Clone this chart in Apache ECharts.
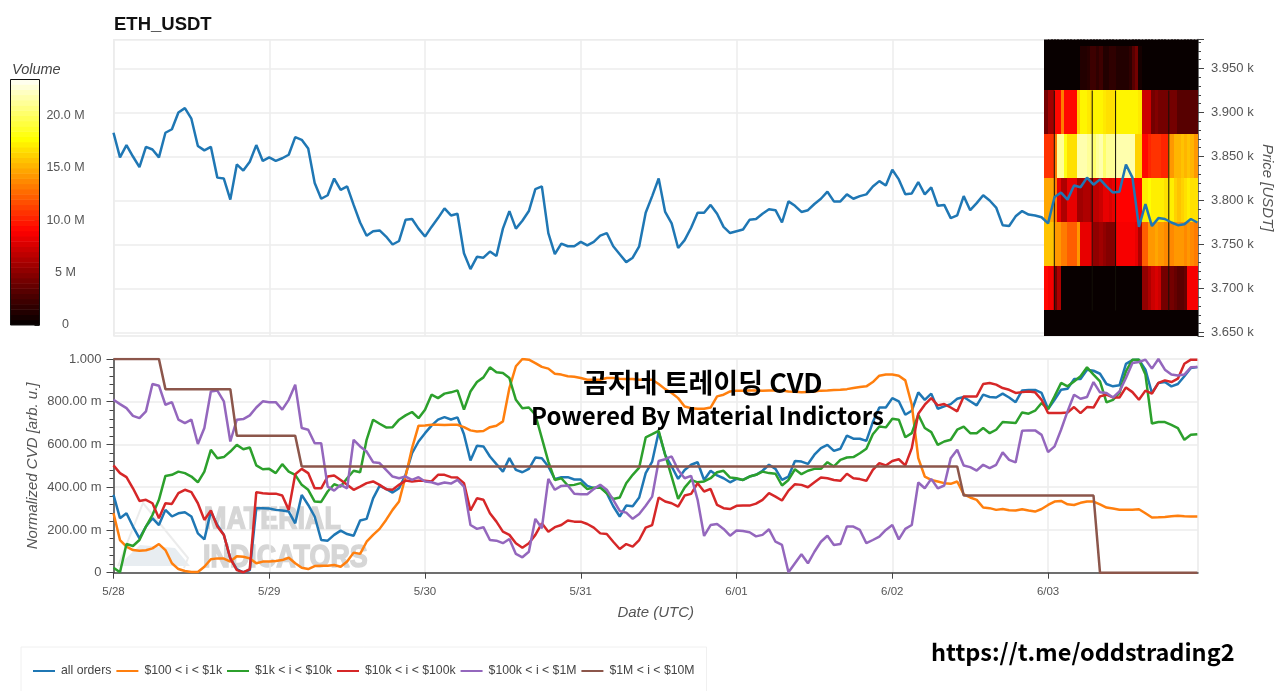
<!DOCTYPE html>
<html>
<head>
<meta charset="utf-8">
<style>
  html, body { margin: 0; padding: 0; background: #fff; }
  #chart { width: 1280px; height: 691px; }
</style>
<script src="https://cdn.jsdelivr.net/npm/echarts@6/dist/echarts.min.js"></script>
</head>
<body>
<div id="chart"></div>
<script>
const HOUR = 3600 * 1000
const start = Date.UTC(2024, 4, 28)

const price = [
  3877,3849,3863,3850,3838,3861,3858,3849,3877,3881,3900,3905,3893,3862,3857,3861,3826,3825,3801,3841,3834,3844,3863,3845,
  3849,3845,3848,3852,3872,3869,3859,3820,3802,3806,3825,3812,3816,3795,3775,3760,3765,3766,3759,3750,3754,3778,3779,3768,
  3759,3770,3780,3791,3783,3785,3740,3722,3736,3735,3742,3737,3768,3788,3768,3777,3788,3813,3816,3763,3739,3751,3748,3748,
  3753,3749,3753,3760,3763,3748,3739,3730,3735,3748,3786,3805,3825,3787,3774,3746,3755,3769,3786,3786,3795,3785,3770,3763,
  3765,3767,3778,3779,3785,3790,3789,3775,3799,3794,3787,3789,3796,3802,3810,3799,3799,3807,3802,3805,3807,3816,3822,3817,
  3835,3824,3807,3808,3821,3807,3815,3794,3795,3780,3783,3805,3789,3797,3806,3800,3792,3772,3771,3782,3788,3784,3783,3781,
  3774,3804,3809,3801,3817,3815,3826,3818,3824,3816,3809,3810,3841,3826,3770,3796,3771,3780,3779,3775,3772,3773,3779,3775,
]

const allOrders = [
  364,255,278,216,161,216,255,223,294,263,278,283,263,184,156,286,223,177,67,17,2,12,302,302,
  300,294,291,286,231,364,317,263,153,150,177,197,181,173,244,252,348,406,392,375,395,458,559,614,
  653,688,716,728,717,727,648,525,594,591,544,508,473,536,481,470,486,539,536,497,438,447,447,436,
  436,406,395,402,372,311,263,314,311,352,466,520,658,552,497,439,481,505,517,434,477,455,442,423,
  439,434,450,458,477,505,486,434,450,523,520,509,552,583,598,570,580,642,627,627,617,705,773,773,
  817,802,739,758,844,809,838,767,778,789,814,822,802,783,833,822,820,838,820,798,853,855,855,841,
  766,809,856,861,906,906,950,945,931,883,872,877,977,995,997,950,841,888,892,872,883,919,958,963,
]

const size100to1k = [
  278,153,122,106,103,105,114,134,106,44,17,8,3,3,28,63,67,66,52,77,75,67,44,52,
  52,55,59,70,44,23,17,31,33,33,36,28,52,94,88,145,177,205,247,294,333,450,583,688,
  689,692,692,691,692,692,681,666,661,663,681,688,708,864,966,1000,997,981,963,955,931,927,919,917,
  911,903,903,903,911,911,908,906,906,903,903,903,883,859,841,817,778,770,767,767,773,825,833,848,
  852,852,853,853,852,853,853,852,848,847,844,845,848,852,853,855,856,859,864,869,872,892,922,927,
  927,922,900,786,536,450,434,427,419,416,427,367,352,341,305,302,294,298,292,291,297,291,286,298,
  317,333,336,320,317,327,333,333,320,305,300,295,295,295,297,278,258,259,261,264,267,264,263,263,
]

const size1kto10k = [
  23,2,134,125,153,216,270,341,453,458,473,466,450,423,473,575,536,541,567,598,578,586,502,484,
  486,466,508,473,458,411,388,333,331,380,414,403,442,477,470,622,716,697,680,681,716,736,752,723,
  763,833,817,838,844,853,763,848,892,914,961,938,934,911,809,770,773,739,630,520,434,442,408,411,
  419,391,398,398,372,345,352,419,458,492,633,648,664,552,450,345,398,434,423,427,442,470,477,445,
  442,434,450,458,473,466,463,408,434,484,461,477,486,486,517,497,528,539,541,559,580,648,684,680,
  720,716,634,653,739,677,658,598,614,622,669,684,653,653,677,653,669,705,703,700,750,744,758,794,
  766,825,888,872,895,919,961,927,895,797,809,841,942,997,997,927,698,705,705,692,677,622,645,648,
]

const size10kto100k = [
  502,466,447,395,336,341,325,255,325,322,372,388,377,325,247,291,216,177,67,12,2,17,377,372,
  370,370,361,294,461,486,466,395,395,450,455,434,411,388,403,419,427,411,391,388,411,431,427,430,
  430,427,458,458,447,445,419,291,348,341,278,239,192,177,138,117,138,177,231,192,213,223,244,239,
  239,228,211,184,181,145,111,134,122,153,211,223,352,333,325,309,361,369,419,380,392,317,302,298,
  313,314,314,323,341,372,356,338,384,414,411,400,423,445,442,434,430,463,442,438,430,481,513,502,
  523,531,502,583,744,786,817,783,789,773,755,825,825,825,883,888,880,864,856,841,845,848,844,809,
  747,747,747,750,775,747,775,773,825,833,820,820,867,845,809,852,838,888,900,892,908,978,997,997,
]

const size100kto1m = [
  809,789,770,734,723,755,883,875,786,798,716,700,716,602,677,848,852,802,614,716,719,736,773,802,
  798,798,763,809,880,677,669,606,606,403,384,411,395,622,591,567,517,513,481,450,442,450,434,447,
  427,423,414,422,417,434,403,223,205,213,153,150,138,158,88,72,98,252,208,439,388,406,408,369,
  367,367,392,411,388,341,289,281,252,275,313,356,523,531,544,481,442,453,341,172,223,228,205,173,
  197,195,189,170,177,203,145,130,2,44,86,44,98,145,173,130,134,216,216,200,138,153,169,200,
  223,156,205,223,422,395,439,395,408,536,575,502,494,478,505,489,505,563,528,516,664,666,666,645,
  564,591,669,755,833,814,822,892,844,841,820,848,911,981,986,997,955,1000,950,927,923,927,961,963,
]

const size1mto10m = [
  1000,1000,1000,1000,1000,1000,1000,1000,859,859,859,859,859,859,859,859,859,859,859,641,641,641,641,641,
  641,641,641,641,641,497,497,497,497,497,497,497,497,497,497,497,497,497,497,497,497,497,497,497,
  497,497,497,497,497,497,497,497,497,497,497,497,497,497,497,497,497,497,497,497,497,497,497,497,
  497,497,497,497,497,497,497,497,497,497,497,497,497,497,497,497,497,497,497,497,497,497,497,497,
  497,497,497,497,497,497,497,497,497,497,497,497,497,497,497,497,497,497,497,497,497,497,497,497,
  497,497,497,497,497,497,497,497,497,497,497,361,361,361,361,361,361,361,361,361,361,361,361,361,
  361,361,361,361,361,361,361,361,0,0,0,0,0,0,0,0,0,0,0,0,0,0,0,0,
]

const cvdNames = ['all orders', '$100 < i < $1k', '$1k < i < $10k', '$10k < i < $100k', '$100k < i < $1M', '$1M < i < $10M']
const cvdColors = ['#1f77b4', '#ff7f0e', '#2ca02c', '#d62728', '#9467bd', '#8c564b']
const cvdValues = [allOrders, size100to1k, size1kto10k, size10kto100k, size100kto1m, size1mto10m]

const heatStartHour = 143.5
const heatPrices = [4000, 3950, 3900, 3850, 3800, 3750, 3700, 3650]
const heatVolumes = [
  [0,0,0,0,0,0,0,0,0,0, 0,0,0,0,0, 0,0,0,0,0, 0,0,0,0,0, 0,0,0,0,0, 0,0,0,0,0, 0,0,0,0,0, 0,0,0,0,0, 0,0],
  [0,0,0,0,0,0,0,0,0,0, 0,1,1,1.2,2, 2,1.5,2,1,1, 1.5,1.5,1,1,1, 1,1.5,3,4,0.5, 0,0,0,0,0, 0,0,0,0,0, 0,0,0,0,0, 0,0],
  [4,5.5,5.5,9,9,13,9,9,9,9, 16,17.2,17.2,16.8,16.5, 17.2,17.2,17.2,16.8,16.5, 16.5,16.5,17.2,17.2,17.2, 17.2,17.2,17.2,17.2,16.8, 7,7,7,4,4.5, 4,4,4,4,4, 4,3,3,3,3, 3,3],
  [10.5,10.5,10.5,13,21,21,18,16.5,16.5,16.5, 21.5,21.5,21.5,21,21, 20,21,21.5,20,21, 21,21,21.5,21.5,21.5, 21.5,21.5,21.5,16,16, 9,9,10,10.5,10.5, 10.5,10,10,14,14, 15,15,15.5,15,15.5, 15,14],
  [14.5,14.5,14.5,13,8,6,6,8,8,8, 5.5,5.5,6,6,5.5, 6.5,6.5,7,8,8, 7.5,8,8.8,8.8,8.8, 8.8,8.8,8.8,8.8,8.8, 17,17,17.5,17,17, 17,17,16.5,17,17, 16,15.5,16,16.5,17, 16.5,16.5],
  [15.5,15.5,15.5,14,14,13,13,12,12,12, 14,8,8,8,8, 5,5,5.5,5,4.5, 4.5,4.5,8.5,8.5,8.5, 8.5,8.5,8.5,8,6, 12,12,14,14,14.5, 14,14,13.5,13.5,13.5, 14,14,14,13.5,14, 13.5,13],
  [9,8.5,8.5,4,6,0,0,0,0,0, 0,0,0,0,0, 0,0,0,0,0, 0,0,0,0,0, 0,0,0,0,0, 5,5,6,7,7.5, 7,4,4,4,4, 3.5,3,3,3.5,8.5, 8.5,8.5],
  [0,0,0,0,0,0,0,0,0,0, 0,0,0,0,0, 0,0,0,0,0, 0,0,0,0,0, 0,0,0,0,0, 0,0,0,0,0, 0,0,0,0,0, 0,0,0,0,0, 0,0],
]
const heatGapHours = [144.96, 150.8, 154.4, 162.6]

const colorbarLevels = [
  0,0.5,1,1.5,2,2.5,3,3.5,4,4.5,5,5.5,6,6.5,7,7.5,8,8.5,9,9.5,10,10.5,11,11.5,
  12,12.5,13,13.5,14,14.5,15,15.5,16,16.5,17,17.5,18,18.5,19,19.5,20,20.5,21,21.5,22,22.5,23,
]
const hotColors = ['#080000', '#550000', '#aa0000', '#ff0000', '#ff5500', '#ffaa00', '#ffff00', '#ffff80', '#ffffff']

const font = '"Liberation Sans", Arial, sans-serif'
const tickColor = '#555'
const gridColor = '#ececec'

const times = price.map((_, i) => start + i * HOUR)

function series(values) {
  return values.map((value, i) => [times[i], value])
}

function heatData() {
  const data = []
  heatVolumes.forEach((row, r) => {
    row.forEach((volume, c) => {
      data.push([start + (heatStartHour + c * 0.5) * HOUR, heatPrices[r], volume])
    })
  })
  return data
}

function renderHeatCell(params, api) {
  const p0 = api.coord([api.value(0), api.value(1) + 25])
  const p1 = api.coord([api.value(0) + 0.5 * HOUR, api.value(1) - 25])
  const rect = echarts.graphic.clipRectByRect(
    { x: Math.floor(p0[0]), y: Math.floor(p0[1]), width: Math.ceil(p1[0] - p0[0]) + 1, height: Math.ceil(p1[1] - p0[1]) },
    params.coordSys,
  )
  return rect && { type: 'rect', shape: rect, style: { fill: api.visual('color') } }
}

function renderHeatGap(params, api) {
  const p0 = api.coord([api.value(0), 3925])
  const p1 = api.coord([api.value(0), 3675])
  return { type: 'rect', shape: { x: p0[0] - 0.5, y: p0[1], width: 1, height: p1[1] - p0[1] }, style: { fill: '#141008' } }
}

function renderColorbarBand(params, api) {
  const p0 = api.coord([0, api.value(1) + 0.5])
  const p1 = api.coord([1, api.value(1)])
  const rect = echarts.graphic.clipRectByRect(
    { x: p0[0], y: p0[1], width: p1[0] - p0[0], height: p1[1] - p0[1] + 0.5 },
    params.coordSys,
  )
  return rect && { type: 'rect', shape: rect, style: { fill: api.visual('color') } }
}

function formatPrice(value) {
  return (value / 1000).toFixed(3) + ' k'
}

function formatCvd(value) {
  if (value === 0) return '0'
  if (value === 1000) return '1.000'
  return value.toFixed(2) + ' m'
}

function formatVolume(value) {
  if (value === 0) return '0'
  if (value === 5) return '5 M'
  return value > 20 ? '' : value.toFixed(1) + ' M'
}

const chart = echarts.init(document.getElementById('chart'), null, { renderer: 'canvas' })

const timeMax = start + 167.1 * HOUR

chart.setOption({
  animation: false,
  useUTC: true,
  backgroundColor: '#fff',
  textStyle: { fontFamily: font },
  title: [
    { text: 'ETH_USDT', left: 109, top: 10, textStyle: { fontFamily: font, fontSize: 18.5, fontWeight: 'bold', color: '#111' } },
    { text: 'Volume', left: 7, top: 57, textStyle: { fontFamily: font, fontSize: 14.5, fontStyle: 'italic', fontWeight: 'normal', color: '#444' } },
    { text: '곰지네 트레이딩 CVD', left: 578, top: 364, textStyle: { fontFamily: '"Noto Sans CJK KR"', fontSize: 27, fontWeight: 'bold', color: '#000' } },
    { text: 'Powered By Material Indictors', left: 526, top: 399, textStyle: { fontFamily: '"Noto Sans CJK KR"', fontSize: 24, fontWeight: 'bold', color: '#000' } },
    { text: 'https://t.me/oddstrading2', left: 926, top: 635, textStyle: { fontFamily: '"Noto Sans CJK KR"', fontSize: 23.5, fontWeight: 'bold', color: '#000' } },
  ],
  graphic: [
    { type: 'polygon', z: 0, shape: { points: [[118, 566], [190, 566], [175, 548], [140, 545]] }, style: { fill: '#e8edf1' } },
    { type: 'polyline', z: 0, shape: { points: [[118, 566], [143, 503], [188, 558], [184, 568]] }, style: { stroke: '#ececec', lineWidth: 2, fill: null } },
    { type: 'text', z: 0, x: 204, y: 504, scaleX: 0.84, style: { text: 'MATERIAL', font: 'bold 32px "Liberation Sans"', fill: '#d6d6d6', stroke: '#d6d6d6', lineWidth: 1.5 } },
    { type: 'text', z: 0, x: 203, y: 542, scaleX: 0.84, style: { text: 'INDICATORS', font: 'bold 32px "Liberation Sans"', fill: '#d6d6d6', stroke: '#d6d6d6', lineWidth: 1.5 } },
    { type: 'rect', z: 20, shape: { x: 10.5, y: 79.5, width: 29, height: 245.5 }, style: { stroke: '#111', lineWidth: 1, fill: null } },
  ],
  legend: {
    left: 21,
    top: 647,
    orient: 'horizontal',
    padding: [18, 12, 16, 12],
    borderColor: '#f0f0f0',
    borderWidth: 1,
    itemWidth: 22,
    itemHeight: 2,
    itemGap: 5,
    icon: 'rect',
    data: cvdNames,
    textStyle: { fontFamily: font, fontSize: 12.25, color: '#444', padding: [0, 0, 0, 1] },
  },
  grid: [
    { left: 113.5, right: 82, top: 39.5, height: 296.5, show: true, borderColor: gridColor, borderWidth: 1, outerBoundsMode: 'none' },
    { left: 113.5, right: 82, top: 359, height: 213.7, show: true, borderColor: gridColor, borderWidth: 1, outerBoundsMode: 'none' },
    { left: 10.5, width: 29, top: 80, height: 245, show: false, outerBoundsMode: 'none' },
  ],
  xAxis: [
    {
      type: 'time', gridIndex: 0, min: start, max: timeMax, minInterval: 24 * HOUR, maxInterval: 24 * HOUR,
      axisLine: { show: false }, axisTick: { show: false }, axisLabel: { show: false },
      splitLine: { show: true, lineStyle: { color: gridColor, width: 1.5 } },
    },
    {
      type: 'time', gridIndex: 1, min: start, max: timeMax, minInterval: 24 * HOUR, maxInterval: 24 * HOUR,
      name: 'Date (UTC)', nameLocation: 'middle', nameGap: 33,
      nameTextStyle: { fontFamily: font, fontStyle: 'italic', fontSize: 15, color: tickColor },
      axisLine: { lineStyle: { color: '#444', width: 1.5 } },
      axisTick: { length: 6, lineStyle: { color: '#444' } },
      axisLabel: { color: tickColor, fontSize: 11.5, margin: 13, formatter: '{M}/{dd}', hideOverlap: false },
      splitLine: { show: true, lineStyle: { color: gridColor, width: 1.5 } },
    },
    { type: 'value', gridIndex: 2, min: 0, max: 1, show: false },
  ],
  yAxis: [
    {
      type: 'value', gridIndex: 0, position: 'right', min: 3646, max: 3983, splitNumber: 7,
      name: 'Price [USDT]', nameLocation: 'middle', nameGap: 62, nameRotate: -90, nameMoveOverlap: false,
      nameTextStyle: { fontFamily: font, fontStyle: 'italic', fontSize: 15, color: tickColor },
      axisLine: { show: true, lineStyle: { color: '#444', width: 1.5 } },
      axisTick: { show: true, length: 6, lineStyle: { color: '#444' } },
      minorTick: { show: true, splitNumber: 5, length: 3, lineStyle: { color: '#444' } },
      axisLabel: { color: tickColor, fontSize: 13, margin: 13, formatter: formatPrice, showMinLabel: false, showMaxLabel: false },
      splitLine: { show: true, lineStyle: { color: gridColor, width: 1.5 } },
    },
    {
      type: 'value', gridIndex: 1, min: 0, max: 1000, interval: 200,
      name: 'Normalized CVD [arb. u.]', nameLocation: 'middle', nameGap: 73, nameMoveOverlap: false,
      nameTextStyle: { fontFamily: font, fontStyle: 'italic', fontSize: 15, color: tickColor },
      axisLine: { show: true, lineStyle: { color: '#444', width: 1.5 } },
      axisTick: { show: true, length: 7, lineStyle: { color: '#444' } },
      minorTick: { show: true, splitNumber: 5, length: 4, lineStyle: { color: '#444' } },
      axisLabel: { color: tickColor, fontSize: 13, margin: 12, formatter: formatCvd },
      splitLine: { show: true, lineStyle: { color: gridColor, width: 1.5 } },
    },
    {
      type: 'value', gridIndex: 2, position: 'right', min: 0, max: 23.4, interval: 5,
      axisLine: { show: false, onZero: false },
      axisTick: { show: true, inside: true, length: 5, lineStyle: { color: '#222' } },
      axisLabel: { color: tickColor, fontSize: 12.5, margin: 26, align: 'center', formatter: formatVolume },
      splitLine: { show: false },
    },
  ],
  visualMap: {
    show: false,
    type: 'continuous',
    seriesIndex: [0, 9],
    dimension: 2,
    min: 0,
    max: 23.4,
    inRange: { color: hotColors },
  },
  series: [
    {
      type: 'custom', name: 'Volume', xAxisIndex: 0, yAxisIndex: 0, renderItem: renderHeatCell,
      encode: { x: 0, y: 1 }, data: heatData(), silent: true,
    },
    {
      type: 'custom', name: 'gaps', xAxisIndex: 0, yAxisIndex: 0, renderItem: renderHeatGap,
      encode: { x: 0 }, data: heatGapHours.map((hour) => [start + hour * HOUR]), silent: true,
    },
    {
      type: 'line', name: 'price', xAxisIndex: 0, yAxisIndex: 0, data: series(price),
      showSymbol: false, lineStyle: { color: cvdColors[0], width: 2.5 }, itemStyle: { color: cvdColors[0] },
    },
    ...cvdNames.map((name, i) => ({
      type: 'line', name, xAxisIndex: 1, yAxisIndex: 1, data: series(cvdValues[i]),
      showSymbol: false, lineStyle: { color: cvdColors[i], width: 2.5 }, itemStyle: { color: cvdColors[i] },
    })),
    {
      type: 'custom', name: 'colorbar', xAxisIndex: 2, yAxisIndex: 2, renderItem: renderColorbarBand,
      encode: { y: 1 }, data: colorbarLevels.map((level) => [0, level, level]), silent: true,
    },
  ],
})
</script>
</body>
</html>
